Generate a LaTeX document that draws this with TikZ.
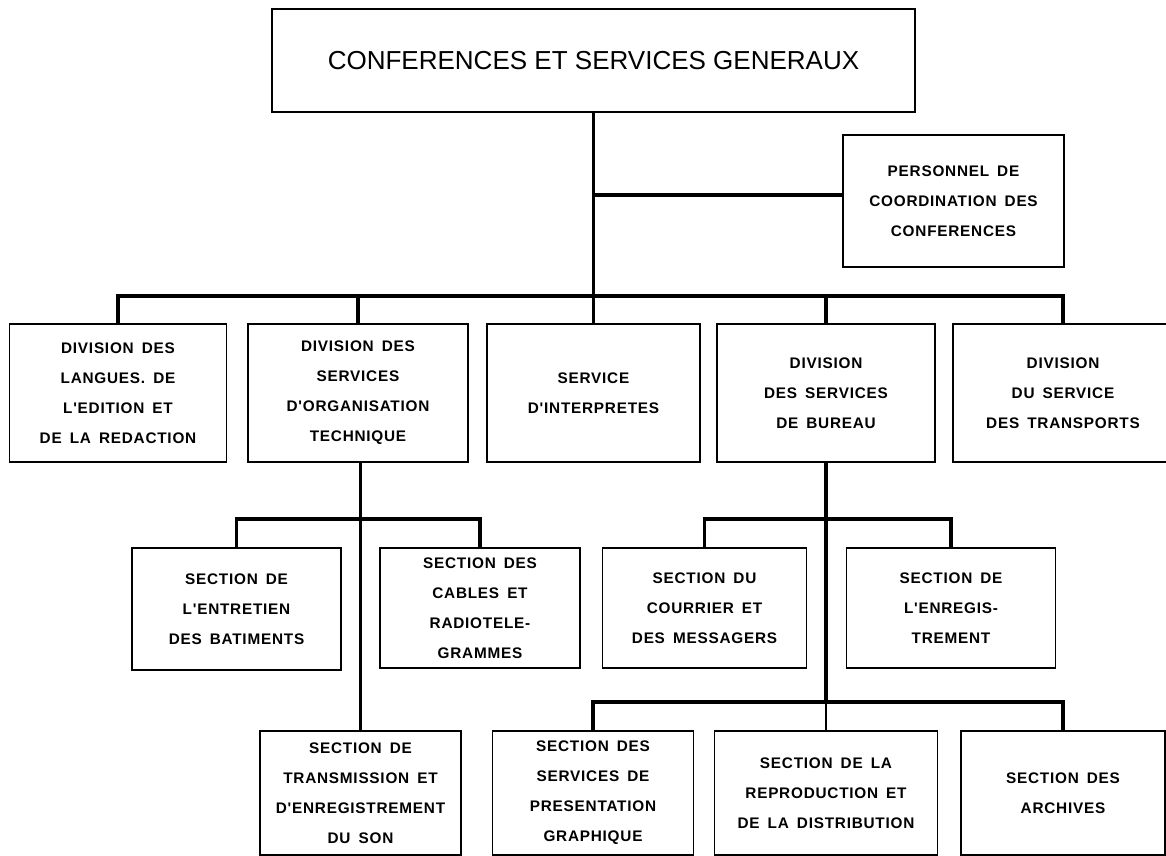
\documentclass[tikz,border=0pt]{standalone}
\usepackage{fontspec}
\usepackage{tikz}
\usetikzlibrary{positioning}

\newfontfamily\chartfont{Liberation Sans}[LetterSpace=5, WordSpace=1.6]
\newfontfamily\headfont{Liberation Sans}
\newlength\pxu
\setlength\pxu{0.025cm}

\begin{document}
\begin{tikzpicture}[
  x=0.025cm, y=-0.025cm,
  box/.style={draw, line width=1.3pt, align=center, inner sep=0pt, font=\chartfont\bfseries\fontsize{10.9}{21.3}\selectfont},
  head/.style={draw, line width=1.3pt, align=center, inner sep=0pt, font=\headfont\fontsize{18.5}{22}\selectfont},
  link/.style={line width=2.8pt},
  thin link/.style={line width=1.8pt}
]
\useasboundingbox (0,0) rectangle (1166,856);
\clip (0,0) rectangle (1166,856);
\fill[white] (0,0) rectangle (1166,856);

% top
\node[head, minimum width=643\pxu, minimum height=103\pxu] (conf) at (593.5,60.5) {CONFERENCES ET SERVICES GENERAUX};
\node[box, minimum width=221\pxu, minimum height=132\pxu] (perso) at (953.5,201) {PERSONNEL DE\\COORDINATION DES\\CONFERENCES};

% divisions
\node[box, minimum width=217\pxu, minimum height=138\pxu] (langues) at (118,393) {DIVISION DES\\LANGUES. DE\\L'EDITION ET\\DE LA REDACTION};
\node[box, minimum width=220\pxu, minimum height=138\pxu] (techn) at (358,393) {DIVISION DES\\SERVICES\\D'ORGANISATION\\TECHNIQUE};
\node[box, minimum width=213\pxu, minimum height=138\pxu] (interp) at (593.5,393) {SERVICE\\D'INTERPRETES};
\node[box, minimum width=218\pxu, minimum height=138\pxu] (bureau) at (826,393) {DIVISION\\DES SERVICES\\DE BUREAU};
\node[box, minimum width=220\pxu, minimum height=138\pxu] (transports) at (1063,393) {DIVISION\\DU SERVICE\\DES TRANSPORTS};

% sections
\node[box, minimum width=209\pxu, minimum height=122\pxu] (entretien) at (236.5,609) {SECTION DE\\L'ENTRETIEN\\DES BATIMENTS};
\node[box, minimum width=200\pxu, minimum height=120\pxu] (cables) at (480,608) {SECTION DES\\CABLES ET\\RADIOTELE-\\GRAMMES};
\node[box, minimum width=204\pxu, minimum height=120\pxu] (courrier) at (704.5,608) {SECTION DU\\COURRIER ET\\DES MESSAGERS};
\node[box, minimum width=209\pxu, minimum height=120\pxu] (enreg) at (951,608) {SECTION DE\\L'ENREGIS-\\TREMENT};

\node[box, minimum width=201\pxu, minimum height=124\pxu] (transmission) at (360.5,793) {SECTION DE\\TRANSMISSION ET\\D'ENREGISTREMENT\\DU SON};
\node[box, minimum width=201\pxu, minimum height=124\pxu] (presentation) at (593,793) {SECTION DES\\SERVICES DE\\PRESENTATION\\GRAPHIQUE};
\node[box, minimum width=223\pxu, minimum height=124\pxu] (reproduction) at (826,793) {SECTION DE LA\\REPRODUCTION ET\\DE LA DISTRIBUTION};
\node[box, minimum width=204\pxu, minimum height=124\pxu] (archives) at (1063,793) {SECTION DES\\ARCHIVES};

% connectors
\coordinate (bus) at (593.5,296);
\coordinate (tbus) at (360.5,519);
\coordinate (bbus) at (826,519);
\coordinate (lbus) at (826,702);

\draw[link] (conf) -- (interp);
\draw[link] ([yshift=6\pxu]perso.west) -- ([yshift=6\pxu]perso.west -| conf.south);
\draw[link] (langues.north) -- (langues.north |- bus) -- (transports.north |- bus) -- (transports.north);
\foreach \n in {techn, bureau}
  \draw[link] (\n.north) -- (\n.north |- bus);

\draw[link] (entretien.north) -- (entretien.north |- tbus) -- (cables.north |- tbus) -- (cables.north);
\draw[link] (techn.south -| tbus) -- (tbus);
\draw[thin link] (tbus) -- (transmission.north);

\draw[link] (courrier.north) -- (courrier.north |- bbus) -- (enreg.north |- bbus) -- (enreg.north);
\draw[link] (bureau.south) -- (lbus);
\draw[link] (presentation.north) -- (presentation.north |- lbus) -- (archives.north |- lbus) -- (archives.north);
\draw[thin link] (lbus) -- (reproduction.north);
\end{tikzpicture}
\end{document}
